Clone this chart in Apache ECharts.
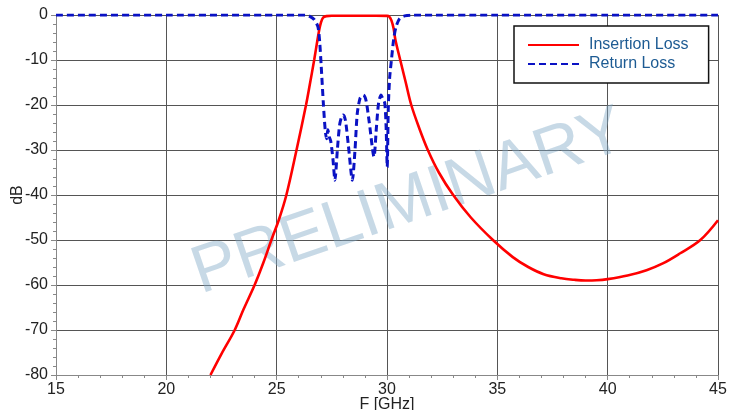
<!DOCTYPE html>
<html>
<head>
<meta charset="utf-8">
<script src="https://cdn.jsdelivr.net/npm/echarts@6/dist/echarts.min.js"></script>
<style>
html,body{margin:0;padding:0;background:#fff;}
#c{width:734px;height:410px;}
</style>
</head>
<body>
<div id="c"></div>
<script>
// Insertion Loss (S21) readings
var ilFreq = [22.0, 22.5, 23.1, 23.5, 24.0, 24.4, 24.76, 25.1, 25.44, 25.9, 26.33, 26.5, 26.7, 26.85, 26.93, 27.0, 27.1, 27.25, 27.5, 28.5, 29.5, 30.0, 30.1, 30.2, 30.3, 30.38, 30.6, 30.85, 31.1, 31.45, 31.85, 32.35, 33.0, 33.8, 34.8, 35.7, 36.4, 37.1, 37.9, 38.5, 39.0, 39.5, 40.0, 40.9, 41.76, 42.5, 43.27, 44.2, 45.0];
var ilDb   = [-80, -75.3, -70, -65.4, -60, -55, -50, -45.5, -40, -30, -20, -15.5, -10, -5.5, -3.3, -1.8, -0.6, -0.25, -0.15, -0.15, -0.15, -0.2, -0.35, -1.2, -3.0, -5.5, -10, -15, -20, -25, -30, -35, -40, -45, -50, -53.8, -56, -57.6, -58.5, -58.85, -59.0, -58.95, -58.7, -57.9, -56.7, -55.2, -53, -50, -45.6];

// Return Loss (S11) readings
var rlFreq = [15.0, 20.0, 25.0, 26.3, 26.5, 26.7, 26.87, 26.95, 27.02, 27.12, 27.2, 27.26, 27.32, 27.38, 27.45, 27.55, 27.64, 27.75, 27.85, 27.95, 28.02, 28.12, 28.25, 28.43, 28.55, 28.65, 28.78, 28.93, 29.05, 29.2, 29.41, 29.52, 29.62, 29.73, 29.8, 29.9, 29.96, 30.01, 30.06, 30.12, 30.2, 30.3, 30.4, 30.57, 30.8, 31.2, 35.0, 40.0, 45.0];
var rlDb   = [0, 0, 0, 0, -0.3, -1.0, -2.6, -6, -11.5, -20, -25.6, -27.5, -25.5, -27, -28, -32, -36.7, -30, -24.5, -22.5, -22.2, -23.5, -29, -36.7, -30, -22, -18.5, -17.8, -19, -24, -31.5, -25, -19.5, -17.8, -18.5, -19.6, -25, -33.8, -20.4, -14, -10, -5.5, -2.8, -0.8, -0.2, 0, 0, 0, 0];

var seriesNames = ['Insertion Loss', 'Return Loss'];
var xLabel = 'F [GHz]';
var yLabel = 'dB';
var watermark = 'PRELIMINARY';

function pairs(xs, ys){ return xs.map(function(x,i){ return [x, ys[i]]; }); }

var chart = echarts.init(document.getElementById('c'), null, {renderer:'canvas'});
var font = 'Liberation Sans, Arial, sans-serif';
chart.setOption({
  animation: false,
  backgroundColor: '#fff',
  grid: {left: 56, right: 16, top: 15, bottom: 35, containLabel: false, outerBoundsMode: 'none'},
  xAxis: {
    type: 'value', min: 15, max: 45, interval: 5,
    name: xLabel, nameLocation: 'middle', nameGap: 22, nameMoveOverlap: false,
    nameTextStyle: {color: '#222', fontSize: 16, fontFamily: font},
    axisLine: {show: true, onZero: false, lineStyle: {color: '#888', width: 1}},
    axisTick: {show: true, length: 5, lineStyle: {color: '#888'}},
    minorTick: {show: true, splitNumber: 5, length: 3, lineStyle: {color: '#888'}},
    axisLabel: {color: '#222', fontSize: 16, fontFamily: font, margin: 7},
    splitLine: {show: true, lineStyle: {color: '#555', width: 1}}
  },
  yAxis: {
    type: 'value', min: -80, max: 0, interval: 10,
    name: yLabel, nameLocation: 'middle', nameGap: 30, nameRotate: 90, nameMoveOverlap: false,
    nameTextStyle: {color: '#222', fontSize: 16, fontFamily: font},
    axisLine: {show: true, onZero: false, lineStyle: {color: '#888', width: 1}},
    axisTick: {show: true, length: 5, lineStyle: {color: '#888'}},
    minorTick: {show: true, splitNumber: 5, length: 3, lineStyle: {color: '#888'}},
    axisLabel: {color: '#222', fontSize: 16, fontFamily: font, margin: 8},
    splitLine: {show: true, lineStyle: {color: '#555', width: 1}}
  },
  legend: {
    orient: 'vertical', left: 514, top: 26,
    padding: [11, 20, 11, 13],
    itemWidth: 51, itemHeight: 14, itemGap: 3,
    itemStyle: {opacity: 0},
    backgroundColor: '#fff', borderColor: '#111', borderWidth: 1.5, borderRadius: 0,
    textStyle: {color: '#1d5b93', fontSize: 16, fontFamily: font, padding: [0,0,0,5]},
    data: seriesNames
  },
  graphic: [{
    type: 'text', z: 1,
    x: 409, y: 203,
    rotation: 0.33,
    style: {
      text: watermark,
      fill: 'rgba(130,170,200,0.45)',
      font: '67px ' + font,
      align: 'center', verticalAlign: 'middle',
      textAlign: 'center', textVerticalAlign: 'middle'
    }
  }],
  series: [
    {
      name: seriesNames[0], type: 'line', data: pairs(ilFreq, ilDb),
      showSymbol: false, symbol: 'none', smooth: 0.35,
      lineStyle: {color: '#ff0000', width: 2.6}, itemStyle: {color: '#ff0000'}, z: 3
    },
    {
      name: seriesNames[1], type: 'line', data: pairs(rlFreq, rlDb),
      showSymbol: false, symbol: 'none', smooth: 0.25,
      lineStyle: {color: '#0a12c4', width: 3, type: [7, 4]}, itemStyle: {color: '#0a12c4'}, z: 4
    }
  ]
});
</script>
</body>
</html>
